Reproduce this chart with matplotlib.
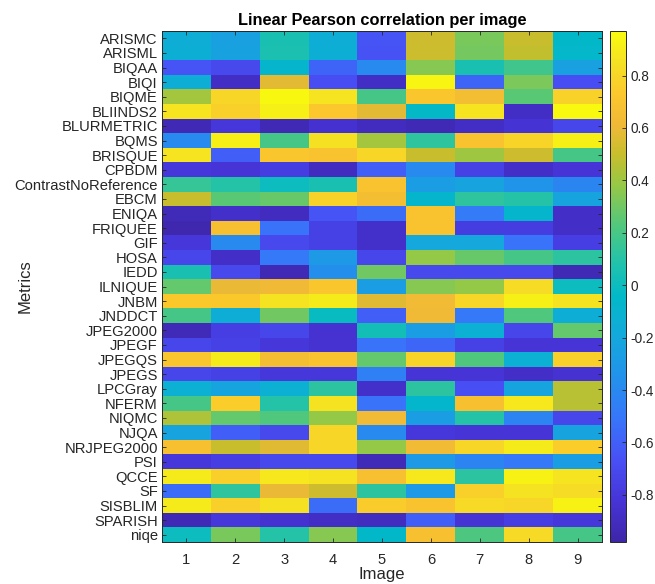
import numpy as np
import matplotlib
matplotlib.use("Agg")
import matplotlib.pyplot as plt
from matplotlib.colors import LinearSegmentedColormap

plt.rcParams["font.family"] = ["Liberation Sans", "DejaVu Sans"]

metrics = ["ARISMC", "ARISML", "BIQAA", "BIQI", "BIQME", "BLIINDS2", "BLURMETRIC",
           "BQMS", "BRISQUE", "CPBDM", "ContrastNoReference", "EBCM", "ENIQA",
           "FRIQUEE", "GIF", "HOSA", "IEDD", "ILNIQUE", "JNBM", "JNDDCT", "JPEG2000",
           "JPEGF", "JPEGQS", "JPEGS", "LPCGray", "NFERM", "NIQMC", "NJQA",
           "NRJPEG2000", "PSI", "QCCE", "SF", "SISBLIM", "SPARISH", "niqe"]
images = [1, 2, 3, 4, 5, 6, 7, 8, 9]

# correlation per image (one list per image column, metric order as above)
img1 = [-0.15, -0.14, -0.65, -0.15, 0.42, 0.87, -0.93, -0.40, 0.87, -0.80, 0.15, 0.50,
        -0.92, -0.95, -0.80, -0.72, 0.05, 0.27, 0.74, 0.20, -0.92, -0.72, 0.72, -0.72,
        -0.12, 0.20, 0.44, -0.23, 0.68, -0.80, 0.90, -0.55, 0.90, -0.93, 0.00]
img2 = [-0.25, -0.24, -0.70, -0.88, 0.80, 0.77, -0.80, 0.92, -0.60, -0.82, 0.10, 0.25,
        -0.86, 0.68, -0.40, -0.87, -0.70, 0.60, 0.74, -0.15, -0.76, -0.75, 0.90, -0.75,
        -0.22, 0.76, 0.27, -0.60, 0.50, -0.76, 0.77, 0.13, 0.77, -0.80, 0.32]
img3 = [0.05, 0.06, -0.08, 0.58, 0.95, 0.92, -0.93, 0.20, 0.72, -0.77, 0.00, 0.28,
        -0.90, -0.52, -0.70, -0.50, -0.93, 0.62, 0.86, 0.30, -0.72, -0.80, 0.66, -0.80,
        -0.12, 0.10, 0.23, -0.70, 0.57, -0.70, 0.88, 0.60, 0.85, -0.85, 0.10]
img4 = [-0.15, -0.14, -0.58, -0.68, 0.87, 0.73, -0.85, 0.85, 0.70, -0.90, 0.05, 0.78,
        -0.65, -0.75, -0.75, -0.30, -0.37, 0.72, 0.90, -0.02, -0.84, -0.84, 0.70, -0.80,
        0.12, 0.86, 0.38, 0.80, 0.80, -0.70, 0.86, 0.52, -0.55, -0.88, 0.35]
img5 = [-0.65, -0.66, -0.40, -0.88, 0.20, 0.58, -0.90, 0.42, 0.80, -0.60, 0.70, 0.66,
        -0.55, -0.86, -0.86, -0.72, 0.30, -0.27, 0.57, -0.60, 0.03, -0.52, 0.27, -0.45,
        -0.86, -0.52, 0.64, -0.40, 0.38, -0.92, 0.68, 0.12, 0.75, -0.90, -0.05]
img6 = [0.52, 0.51, 0.35, 0.94, 0.72, -0.03, -0.93, 0.13, 0.50, -0.40, -0.27, -0.08,
        0.70, 0.70, -0.20, 0.38, -0.70, 0.35, 0.64, 0.62, -0.27, -0.57, 0.79, -0.82,
        0.12, -0.07, -0.27, -0.80, 0.64, -0.30, 0.88, -0.30, 0.70, -0.60, 0.68]
img7 = [0.32, 0.31, 0.05, -0.58, 0.66, 0.87, -0.88, 0.70, 0.40, -0.75, -0.23, 0.13,
        -0.48, -0.77, -0.20, 0.28, -0.70, 0.38, 0.80, -0.50, -0.12, -0.75, 0.23, -0.82,
        -0.67, 0.68, 0.10, -0.82, 0.80, -0.43, 0.12, 0.77, 0.82, -0.83, 0.22]
img8 = [0.50, 0.49, 0.18, 0.33, 0.25, -0.88, -0.83, 0.79, 0.52, -0.87, -0.33, 0.10,
        -0.08, -0.77, -0.52, 0.20, -0.70, 0.83, 0.92, 0.23, -0.72, -0.82, -0.12, -0.87,
        -0.22, 0.88, -0.43, -0.82, 0.90, -0.50, 0.93, 0.86, 0.80, -0.76, 0.82]
img9 = [-0.05, -0.06, -0.25, -0.68, 0.78, 0.96, -0.72, 0.92, 0.20, -0.82, -0.42, -0.23,
        -0.87, -0.87, -0.76, 0.12, -0.93, 0.00, 0.86, -0.15, 0.27, -0.82, 0.77, -0.84,
        0.46, 0.46, -0.72, -0.23, 0.76, -0.27, 0.87, 0.83, 0.93, -0.80, 0.20]

cbar_ticks = [-0.8, -0.6, -0.4, -0.2, 0, 0.2, 0.4, 0.6, 0.8]

# parula-like colormap (MATLAB default)
parula_pts = [
    (0.00, (62, 38, 168)), (0.08, (70, 52, 215)), (0.16, (72, 80, 245)),
    (0.24, (55, 118, 250)), (0.32, (35, 145, 235)), (0.40, (20, 168, 220)),
    (0.48, (2, 185, 200)), (0.55, (35, 195, 170)), (0.62, (80, 200, 125)),
    (0.70, (150, 200, 70)), (0.76, (200, 190, 45)), (0.82, (240, 185, 55)),
    (0.88, (252, 200, 45)), (0.94, (245, 225, 35)), (1.00, (249, 251, 14)),
]
parula = LinearSegmentedColormap.from_list(
    "parula", [(f, tuple(c / 255 for c in rgb)) for f, rgb in parula_pts], N=256)

data = np.column_stack([img1, img2, img3, img4, img5, img6, img7, img8, img9])
n_rows = len(metrics)

DARK = "#262626"
fig = plt.figure(figsize=(6.55, 5.84), dpi=100)
ax = fig.add_axes([162 / 655, 42 / 584, 440 / 655, 511 / 584])
cax = fig.add_axes([610 / 655, 42 / 584, 16 / 655, 511 / 584])

im = ax.imshow(data, cmap=parula, vmin=-0.98, vmax=0.97, aspect="auto",
               interpolation="nearest",
               extent=(0.5, len(images) + 0.5, n_rows + 0.5, 0.5))

ax.set_xticks(images)
ax.set_xticklabels([str(i) for i in images])
ax.set_yticks(np.arange(1, n_rows + 1))
ax.set_yticklabels(metrics)
ax.tick_params(direction="in", length=3, width=0.6, color=DARK, labelcolor=DARK,
               labelsize=10.6, top=True, right=True)
ax.tick_params(axis="x", pad=8)
ax.tick_params(axis="y", pad=3)
for s in ax.spines.values():
    s.set_color(DARK)
    s.set_linewidth(0.7)

ax.set_title("Linear Pearson correlation per image", fontsize=11.8,
             fontweight="bold", color="black", pad=4)
ax.set_xlabel("Image", fontsize=12, color=DARK, labelpad=0)
ax.set_ylabel("Metrics", fontsize=12, color=DARK)
ax.yaxis.set_label_coords((33 - 162) / 440, 0.5)

cb = fig.colorbar(im, cax=cax, ticks=cbar_ticks)
cb.ax.set_yticklabels(["0" if t == 0 else f"{t:g}" for t in cbar_ticks])
cb.ax.tick_params(direction="in", length=3, width=0.6, color=DARK, labelcolor=DARK,
                  labelsize=9.8, pad=3)
cb.outline.set_edgecolor(DARK)
cb.outline.set_linewidth(0.7)

fig.savefig("out.png", dpi=100, facecolor="white")
